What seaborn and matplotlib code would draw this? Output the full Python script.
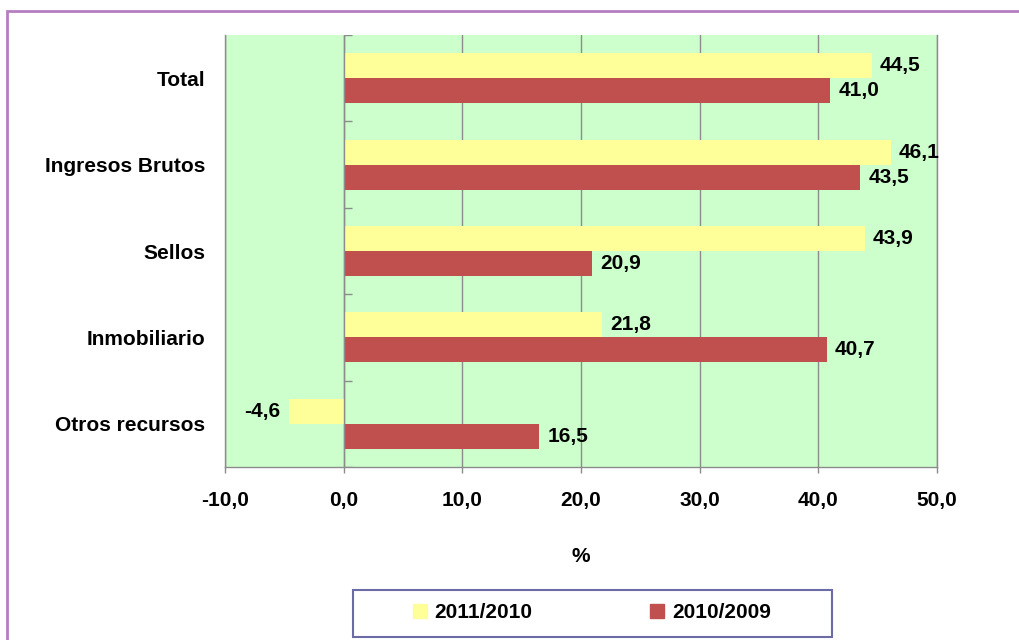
import numpy as np
import pandas as pd
import matplotlib
matplotlib.use("Agg")
import matplotlib.pyplot as plt
from matplotlib.patches import Rectangle
import seaborn as sns

# ── Data ──────────────────────────────────────────────────────────────────────
categories = ["Total", "Ingresos Brutos", "Sellos", "Inmobiliario", "Otros recursos"]
series     = ["2011/2010", "2010/2009"]
vals_2011  = [44.5, 46.1, 43.9, 21.8, -4.6]
vals_2010  = [41.0, 43.5, 20.9, 40.7, 16.5]
x_ticks    = [-10, 0, 10, 20, 30, 40, 50]
colors     = ["#FFFF99", "#C0504D"]

df = pd.DataFrame({
    "categoria": categories * 2,
    "serie":     [series[0]] * len(categories) + [series[1]] * len(categories),
    "valor":     vals_2011 + vals_2010,
})

def coma(v):
    return f"{v:.1f}".replace(".", ",")

# ── Style ─────────────────────────────────────────────────────────────────────
sns.set_style("white")
plt.rcParams["font.family"] = ["Liberation Sans", "DejaVu Sans"]
plt.rcParams["font.weight"] = "bold"
plt.rcParams["text.color"] = "black"
plt.rcParams["xtick.color"] = "black"
plt.rcParams["ytick.color"] = "black"
plt.rcParams["axes.labelcolor"] = "black"
FS = 15
GRAY = "#8C8C8C"

fig = plt.figure(figsize=(10.2, 6.4), dpi=100)
ax = fig.add_axes([225 / 1020, 1 - 467 / 640, (937 - 225) / 1020, (467 - 35) / 640])
ax.set_facecolor("#CCFFCC")

sns.barplot(data=df, y="categoria", x="valor", hue="serie", order=categories,
            hue_order=series, palette=colors, width=0.58, orient="h",
            saturation=1, linewidth=0, legend=False, ax=ax)

for c in ax.containers:
    ax.bar_label(c, labels=[coma(v) for v in c.datavalues], padding=6,
                 fontsize=FS, fontweight="bold", color="black")

# axes & grid
ax.set_xlim(-10, 50)
ax.set_xticks(x_ticks)
ax.set_xticklabels([coma(t) for t in x_ticks], fontsize=FS, fontweight="bold")
ax.xaxis.grid(True, color=GRAY, linewidth=1)
ax.set_axisbelow(True)
ax.axvline(0, color=GRAY, linewidth=1, zorder=1)
ax.hlines(np.arange(-0.5, len(categories), 1), 0, 0.7, color=GRAY, linewidth=1)
ax.set_ylim(len(categories) - 0.5, -0.5)
ax.tick_params(axis="x", length=4, width=1, color=GRAY, pad=13, bottom=True)
ax.tick_params(axis="y", length=0, pad=14, labelsize=FS)
for lab in ax.get_yticklabels():
    lab.set_fontweight("bold")
ax.set_ylabel("")
ax.set_xlabel("%", fontsize=FS, fontweight="bold", labelpad=27)
for side in ["left", "right", "bottom"]:
    ax.spines[side].set_color(GRAY)
    ax.spines[side].set_linewidth(1)
ax.spines["top"].set_visible(False)

# legend box
fig.patches.append(Rectangle((353 / 1020, 1 - 637 / 640), 479 / 1020, 47 / 640,
                             transform=fig.transFigure, fill=False,
                             edgecolor="#6B6BA5", linewidth=1.5))
handles = [plt.Line2D([], [], marker="s", linestyle="", markersize=10,
                      markerfacecolor=col, markeredgecolor=col) for col in colors]
fig.legend(handles, series, loc="center", ncol=2, frameon=False,
           bbox_to_anchor=(591 / 1020, 1 - 613 / 640), fontsize=FS,
           handletextpad=0.3, columnspacing=5.6, handlelength=0.8)

# outer border
fig.patches.append(Rectangle((7 / 1020, -0.05), 1.1, 1.05 - 11 / 640,
                             transform=fig.transFigure, fill=False,
                             edgecolor="#B57EC1", linewidth=2))

fig.savefig("out.png", dpi=100)
